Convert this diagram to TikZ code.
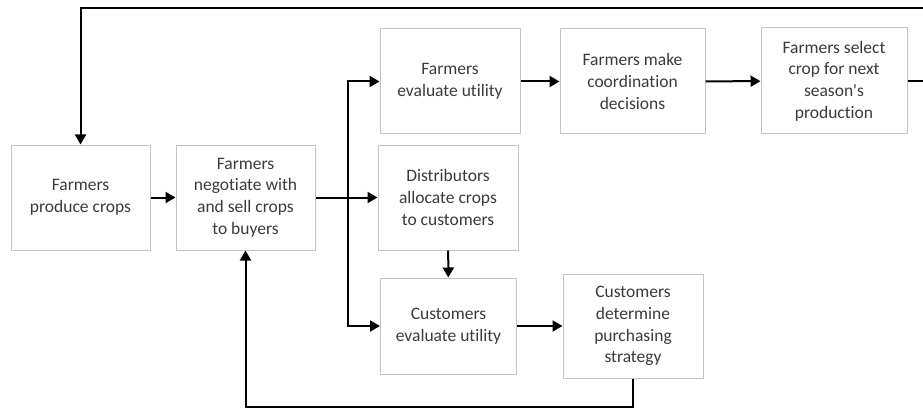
\documentclass[tikz,border=0pt]{standalone}
\usepackage{fontspec}
\newfontfamily\boxfont{Carlito}[Ligatures={NoCommon}]
\usetikzlibrary{arrows.meta}
\definecolor{boxc}{HTML}{C4C4C4}
\definecolor{txtc}{HTML}{3A3A3A}
\begin{document}
\begin{tikzpicture}[
  x=1pt, y=-1pt,
  stage/.style={draw=boxc, line width=1pt, align=center, text=txtc, inner sep=3pt,
                font=\boxfont\fontsize{17.5}{21.7}\selectfont},
  flow/.style={-{Triangle[length=10pt,width=11pt]}, line width=2pt, draw=black}]
\useasboundingbox (0,0) rectangle (923,409);
\node[stage, minimum width=139pt, minimum height=105pt] (produce)   at (80.5,197.5) {Farmers\\produce crops};
\node[stage, minimum width=139pt, minimum height=105pt] (negotiate) at (245.5,197.5) {Farmers\\negotiate with\\and sell crops\\to buyers};
\node[stage, minimum width=140pt, minimum height=105pt] (futil)     at (450,81.5) {Farmers\\evaluate utility};
\node[stage, minimum width=145pt, minimum height=105pt] (coord)     at (632.5,81.5) {Farmers make\\coordination\\decisions};
\node[stage, minimum width=146pt, minimum height=106pt] (select)    at (834,81) {Farmers select\\crop for next\\season's\\production};
\node[stage, minimum width=140pt, minimum height=105pt] (alloc)     at (448,197.5) {Distributors\\allocate crops\\to customers};
\node[stage, minimum width=136pt, minimum height=96pt]  (cutil)     at (448.5,326) {Customers\\evaluate utility};
\node[stage, minimum width=140pt, minimum height=104pt] (strategy)  at (633,326) {Customers\\determine\\purchasing\\strategy};
\coordinate (split) at (348,197.5);
\coordinate (topright) at (935,8);
\coordinate (bottom) at (633,407);
\draw[flow] (produce) -- (negotiate);
\draw[flow] (negotiate) -- (alloc);
\draw[flow] (split) |- (futil);
\draw[flow] (split) |- (cutil);
\draw[flow] (alloc) -- (cutil);
\draw[flow] (futil) -- (coord);
\draw[flow] (coord) -- (select);
\draw[flow] (cutil) -- (strategy);
\draw[flow] (select.east) -| (topright) -| (produce.north);
\draw[flow] (strategy.south) -- (bottom) -| (negotiate.south);
\end{tikzpicture}
\end{document}
